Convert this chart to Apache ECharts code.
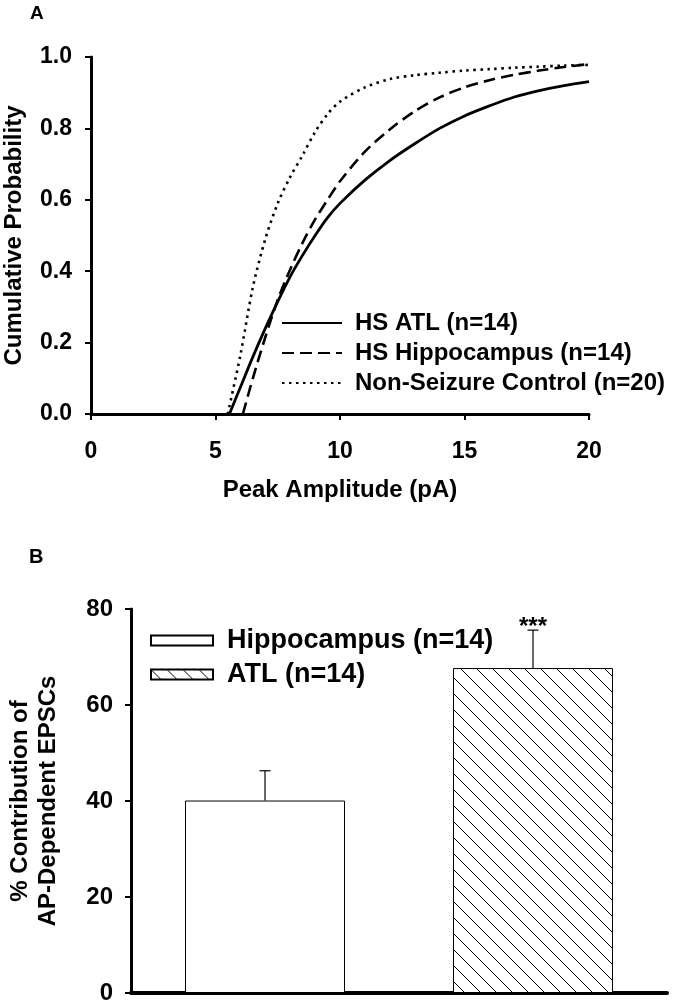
<!DOCTYPE html>
<html><head><meta charset="utf-8">
<script src="https://cdn.jsdelivr.net/npm/echarts@6/dist/echarts.min.js"></script>
<style>html,body{margin:0;padding:0;background:#fff}#c{width:675px;height:1006px}</style>
</head><body><div id="c"></div>
<script>
// ---- Panel A data: cumulative probability vs peak amplitude (pA) ----
const ampTicks = [0, 5, 10, 15, 20];
const lineNames = ['HS ATL (n=14)', 'HS Hippocampus (n=14)', 'Non-Seizure Control (n=20)'];
const hsAtl = [[5.56,0],[6,0.075],[6.5,0.16],[7,0.24],[7.5,0.315],[8,0.385],[8.5,0.445],[9,0.50],[9.5,0.55],[10,0.59],[11,0.655],[12,0.71],[13,0.757],[14,0.80],[15,0.835],[16,0.863],[17,0.888],[18,0.906],[19,0.92],[20,0.931]];
const hsHippo = [[6.1,0],[6.5,0.10],[7,0.215],[7.5,0.32],[8,0.405],[8.5,0.48],[9,0.545],[9.5,0.60],[10,0.652],[11,0.735],[12,0.797],[13,0.848],[14,0.887],[15,0.915],[16,0.935],[17,0.95],[18,0.962],[19,0.972],[20,0.98]];
const control = [[5.49,0],[6,0.165],[6.5,0.355],[7,0.49],[7.5,0.59],[8,0.664],[8.5,0.725],[9,0.79],[9.5,0.84],[10,0.875],[11,0.915],[12,0.938],[13,0.949],[14,0.956],[15,0.962],[16,0.966],[17,0.97],[18,0.973],[19,0.976],[20,0.978]];

// ---- Panel B data: % contribution of AP-dependent EPSCs ----
const groups = ['Hippocampus (n=14)', 'ATL (n=14)'];
const pctMean = [40.1, 67.7];
const pctSem = [6.2, 7.9];
const sigMarks = ['', '***'];

const FONT = "'Liberation Sans', Arial, Helvetica, sans-serif";

// hatch pattern for ATL bar
function hatch() {
  const s = 16, c = document.createElement('canvas');
  c.width = s; c.height = s;
  const g = c.getContext('2d');
  g.fillStyle = '#fff'; g.fillRect(0, 0, s, s);
  g.strokeStyle = '#000'; g.lineWidth = 1;
  [-s, 0, s].forEach(o => { g.beginPath(); g.moveTo(o, 0); g.lineTo(o + s, s); g.stroke(); });
  return { image: c, repeat: 'repeat' };
}
const hatchFill = hatch();

const chart = echarts.init(document.getElementById('c'), null, { renderer: 'canvas' });
const tickA = { color: '#000', fontFamily: FONT, fontWeight: 'bold', fontSize: 23 };
const tickB = { color: '#000', fontFamily: FONT, fontWeight: 'bold', fontSize: 24 };
const nameTxt = { color: '#000', fontFamily: FONT, fontWeight: 'bold', fontSize: 24 };

const lineTypes = ['solid', [12, 6], [2.5, 4.5]];
const lineData = [hsAtl, hsHippo, control];

const option = {
  animation: false,
  backgroundColor: '#fff',
  textStyle: { fontFamily: FONT },
  graphic: [
    { type: 'text', left: 30, top: 4, style: { text: 'A', font: 'bold 19px ' + FONT, fill: '#000' } },
    { type: 'text', left: 29, top: 547, style: { text: 'B', font: 'bold 20px ' + FONT, fill: '#000' } }
  ],
  grid: [
    { left: 91, top: 57, width: 498, height: 357, containLabel: false, outerBoundsMode: 'none' },
    { left: 131, top: 609, width: 536, height: 384, containLabel: false, outerBoundsMode: 'none' }
  ],
  legend: [
    {
      data: lineNames, orient: 'vertical', left: 276, top: 306,
      itemWidth: 60, itemHeight: 14, itemGap: 6, selectedMode: false,
      itemStyle: { opacity: 0 },
      textStyle: Object.assign({}, nameTxt, { lineHeight: 24, padding: [0, 0, 0, 8] })
    },
    {
      data: groups, orient: 'vertical', left: 145, top: 622,
      itemWidth: 62, itemHeight: 10, itemGap: 7, icon: 'rect', selectedMode: false,
      textStyle: Object.assign({}, nameTxt, { fontSize: 27, lineHeight: 27, padding: [0, 0, 0, 9] })
    }
  ],
  xAxis: [
    {
      type: 'value', gridIndex: 0, min: ampTicks[0], max: ampTicks[ampTicks.length - 1], interval: 5,
      name: 'Peak Amplitude (pA)', nameLocation: 'middle', nameGap: 64, nameTextStyle: nameTxt,
      axisLine: { onZero: false, lineStyle: { color: '#000', width: 3 } },
      axisTick: { show: true, length: 6, lineStyle: { color: '#000', width: 2 } },
      axisLabel: Object.assign({ margin: 26 }, tickA),
      splitLine: { show: false }
    },
    {
      type: 'category', gridIndex: 1, data: groups,
      axisLine: { lineStyle: { color: '#000', width: 4 } },
      axisTick: { show: false }, axisLabel: { show: false }, splitLine: { show: false }
    }
  ],
  yAxis: [
    {
      type: 'value', gridIndex: 0, min: 0, max: 1, interval: 0.2,
      name: 'Cumulative Probability', nameLocation: 'middle', nameGap: 65, nameTextStyle: nameTxt,
      axisLine: { show: true, lineStyle: { color: '#000', width: 3 } },
      axisTick: { show: true, length: 6, lineStyle: { color: '#000', width: 2 } },
      axisLabel: Object.assign({ margin: 19, formatter: v => v.toFixed(1) }, tickA),
      splitLine: { show: false }
    },
    {
      type: 'value', gridIndex: 1, min: 0, max: 80, interval: 20,
      name: '% Contribution of\nAP-Dependent EPSCs', nameLocation: 'middle', nameGap: 69,
      nameTextStyle: Object.assign({}, nameTxt, { lineHeight: 28 }),
      axisLine: { show: true, lineStyle: { color: '#000', width: 3 } },
      axisTick: { show: true, length: 6, lineStyle: { color: '#000', width: 2 } },
      axisLabel: Object.assign({ margin: 18 }, tickB),
      splitLine: { show: false }
    }
  ],
  series: [
    ...lineNames.map((n, k) => ({
      name: n, type: 'line', xAxisIndex: 0, yAxisIndex: 0,
      data: lineData[k], showSymbol: false, symbol: 'none',
      smooth: 0.3,
      lineStyle: { color: '#000', width: k === 0 ? 2.8 : 2.6, type: lineTypes[k] },
      itemStyle: { color: '#000' },
      emphasis: { disabled: true }
    })),
    ...groups.map((g, k) => ({
      name: g, type: 'bar', xAxisIndex: 1, yAxisIndex: 1,
      data: pctMean.map((v, i) => (i === k ? v : '-')),
      barWidth: 160, barGap: '-100%',
      itemStyle: { color: k === 0 ? '#fff' : hatchFill, borderColor: '#000', borderWidth: 1 },
      emphasis: { disabled: true }
    })),
    {
      type: 'custom', xAxisIndex: 1, yAxisIndex: 1, z: 5,
      data: pctMean.map((v, i) => [i, v, pctSem[i]]),
      renderItem: function (params, api) {
        const i = api.value(0), v = api.value(1), e = api.value(2);
        const b = api.coord([i, v]), t = api.coord([i, v + e]);
        const st = { stroke: '#000', lineWidth: 1.2 };
        const kids = [
          { type: 'line', shape: { x1: b[0], y1: b[1], x2: t[0], y2: t[1] }, style: st },
          { type: 'line', shape: { x1: t[0] - 5.5, y1: t[1], x2: t[0] + 5.5, y2: t[1] }, style: st }
        ];
        const m = sigMarks[params.dataIndex];
        if (m) kids.push({ type: 'text', style: { text: m, x: t[0], y: t[1] - 3, align: 'center', verticalAlign: 'middle', font: 'bold 24px ' + FONT, fill: '#000' } });
        return { type: 'group', children: kids };
      }
    }
  ]
};
chart.setOption(option);
</script></body></html>
